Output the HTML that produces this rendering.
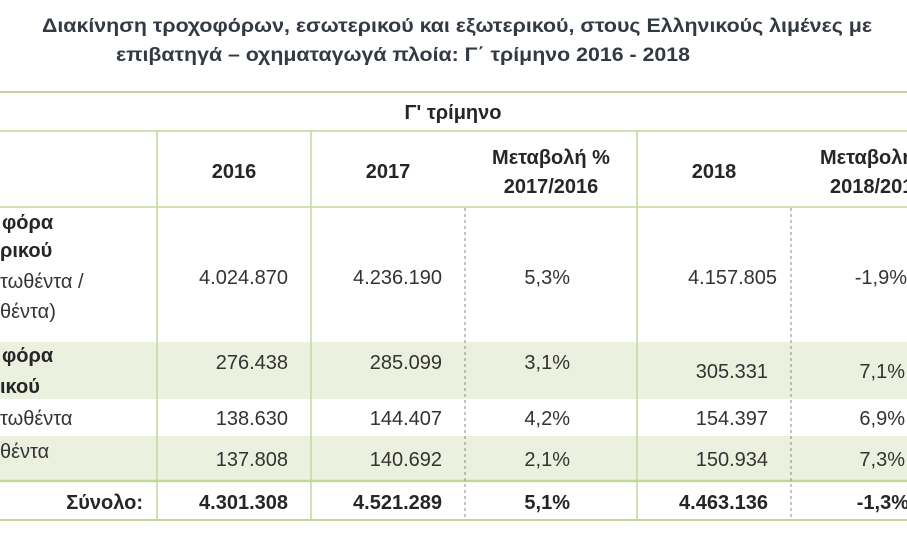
<!DOCTYPE html>
<html><head><meta charset="utf-8"><style>
html,body{margin:0;padding:0;background:#fff;width:907px;height:536px;overflow:hidden}
svg{display:block}
text{font-family:"Liberation Sans","DejaVu Sans",sans-serif;fill:#262626}
.t{font-weight:bold;fill:#333a44;font-size:19px}
.h{font-weight:bold;font-size:20px}
.n{font-size:20px;fill:#333}
.b{font-weight:bold;font-size:20px}
</style></head><body>
<svg width="907" height="536" viewBox="0 0 907 536">
<text class="t" x="42" y="32" textLength="830" lengthAdjust="spacingAndGlyphs">Διακίνηση τροχοφόρων, εσωτερικού και εξωτερικού, στους Ελληνικούς λιμένες με</text>
<text class="t" x="116" y="61" textLength="574" lengthAdjust="spacingAndGlyphs">επιβατηγά – οχηματαγωγά πλοία: Γ΄ τρίμηνο 2016 - 2018</text>
<rect x="0" y="342" width="907" height="57" fill="#ebf1de"/>
<rect x="0" y="436" width="907" height="45" fill="#ebf1de"/>
<g stroke="#c4d79b" fill="none">
<line x1="0" y1="92" x2="907" y2="92" stroke-width="2"/>
<line x1="0" y1="131" x2="907" y2="131" stroke-width="1.5"/>
<line x1="0" y1="207" x2="907" y2="207" stroke-width="1.5"/>
<line x1="0" y1="481" x2="907" y2="481" stroke-width="2.5"/>
<line x1="0" y1="520" x2="907" y2="520" stroke-width="2"/>
<line x1="157" y1="131" x2="157" y2="520" stroke-width="1.5"/>
<line x1="311" y1="131" x2="311" y2="520" stroke-width="1.5"/>
<line x1="637" y1="131" x2="637" y2="520" stroke-width="1.5"/>
</g>
<g stroke="#888" stroke-dasharray="3,3" stroke-width="1">
<line x1="465" y1="208" x2="465" y2="520"/>
<line x1="791" y1="208" x2="791" y2="520"/>
</g>
<text class="h" x="453" y="119" text-anchor="middle">Γ' τρίμηνο</text>
<text class="h" x="234" y="178" text-anchor="middle">2016</text>
<text class="h" x="388" y="178" text-anchor="middle">2017</text>
<text class="h" x="551" y="164" text-anchor="middle">Μεταβολή %</text>
<text class="h" x="551" y="193" text-anchor="middle">2017/2016</text>
<text class="h" x="714" y="178" text-anchor="middle">2018</text>
<text class="h" x="820" y="164">Μεταβολή %</text>
<text class="h" x="830" y="193">2018/2017</text>
<text class="b" x="2" y="229">φόρα</text>
<text class="b" x="0" y="257">ρικού</text>
<text class="n" x="0" y="288">τωθέντα /</text>
<text class="n" x="0" y="318">θέντα)</text>
<text class="b" x="2" y="362">φόρα</text>
<text class="b" x="0" y="393">ικού</text>
<text class="n" x="0" y="425">τωθέντα</text>
<text class="n" x="0" y="458">θέντα</text>
<text class="b" x="143" y="509" text-anchor="end">Σύνολο:</text>

<text class="n" x="288" y="284" text-anchor="end">4.024.870</text>
<text class="n" x="442" y="284" text-anchor="end">4.236.190</text>
<text class="n" x="570" y="284" text-anchor="end">5,3%</text>
<text class="n" x="777" y="284" text-anchor="end">4.157.805</text>
<text class="n" x="907" y="284" text-anchor="end">-1,9%</text>

<text class="n" x="288" y="369" text-anchor="end">276.438</text>
<text class="n" x="442" y="369" text-anchor="end">285.099</text>
<text class="n" x="570" y="369" text-anchor="end">3,1%</text>
<text class="n" x="768" y="378" text-anchor="end">305.331</text>
<text class="n" x="905" y="378" text-anchor="end">7,1%</text>

<text class="n" x="288" y="425" text-anchor="end">138.630</text>
<text class="n" x="442" y="425" text-anchor="end">144.407</text>
<text class="n" x="570" y="425" text-anchor="end">4,2%</text>
<text class="n" x="768" y="425" text-anchor="end">154.397</text>
<text class="n" x="905" y="425" text-anchor="end">6,9%</text>

<text class="n" x="288" y="466" text-anchor="end">137.808</text>
<text class="n" x="442" y="466" text-anchor="end">140.692</text>
<text class="n" x="570" y="466" text-anchor="end">2,1%</text>
<text class="n" x="768" y="466" text-anchor="end">150.934</text>
<text class="n" x="905" y="466" text-anchor="end">7,3%</text>

<text class="b" x="288" y="509" text-anchor="end">4.301.308</text>
<text class="b" x="442" y="509" text-anchor="end">4.521.289</text>
<text class="b" x="570" y="509" text-anchor="end">5,1%</text>
<text class="b" x="768" y="509" text-anchor="end">4.463.136</text>
<text class="b" x="909" y="509" text-anchor="end">-1,3%</text>
</svg>
</body></html>
